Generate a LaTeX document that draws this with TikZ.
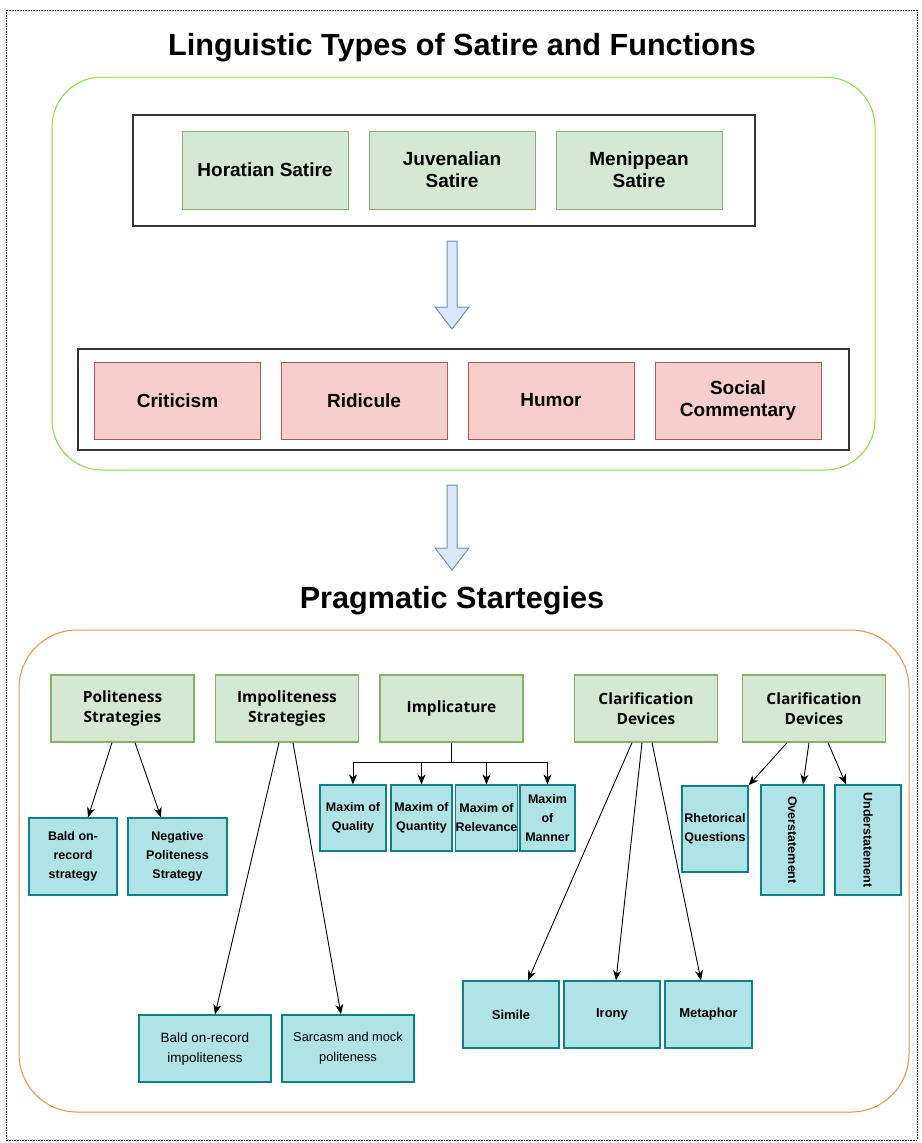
\documentclass[tikz,border=0pt]{standalone}
\usepackage{fontspec}
\setmainfont{Liberation Sans}
\newfontfamily\hdr{Open Sans}
\usetikzlibrary{arrows.meta}
\definecolor{gfill}{HTML}{D5E8D4}
\definecolor{gline}{HTML}{82B366}
\definecolor{rfill}{HTML}{F8CECC}
\definecolor{rline}{HTML}{B85450}
\definecolor{cfill}{HTML}{B0E3E6}
\definecolor{cline}{HTML}{0E8088}
\definecolor{bfill}{HTML}{DAE8FC}
\definecolor{bline}{HTML}{6C8EBF}
\definecolor{frgreen}{HTML}{7FE23A}
\definecolor{frorange}{HTML}{E8913F}
\definecolor{dkbox}{HTML}{333333}
\begin{document}
\begin{tikzpicture}[x=1pt,y=-1pt,
  gbox/.style={draw=gline, fill=gfill, line width=1pt, inner sep=0pt, align=center,
    font=\bfseries\fontsize{19}{22}\selectfont, minimum height=78pt},
  rbox/.style={draw=rline, fill=rfill, line width=1pt, inner sep=0pt, align=center,
    font=\bfseries\fontsize{19}{22}\selectfont, minimum height=77pt, minimum width=166pt},
  hbox/.style={draw=gline, fill=gfill, line width=1.3pt, inner sep=0pt, align=center,
    font=\hdr\bfseries\fontsize{15.5}{20}\selectfont, minimum height=67pt, minimum width=143pt},
  cbox/.style={draw=cline, fill=cfill, line width=1.2pt, inner sep=0pt, align=center,
    font=\bfseries\fontsize{12.5}{19}\selectfont},
  cboxr/.style={cbox, font=\fontsize{13.5}{20}\selectfont},
  blk/.style={draw=dkbox, line width=2pt},
  barrow/.style={draw=bline, fill=bfill, line width=1pt},
  arr/.style={-{Stealth[length=10pt,width=8pt,inset=3pt]}, line width=0.9pt, black},
  ttl/.style={font=\bfseries\fontsize{30.6}{33}\selectfont, inner sep=0pt, anchor=base}
]
\useasboundingbox (0,0) rectangle (921,1143);
\fill[white] (0,0) rectangle (921,1143);
% outer frame
\draw[black, line width=0.9pt, dash pattern=on 1pt off 0.6pt] (6,10) rectangle (917,1140);

% title 1
\node[ttl] (t1) at (462,55) {Linguistic Types of Satire and Functions};

% green rounded container
\draw[frgreen, line width=1pt, rounded corners=50pt] (52,77) rectangle (875,470);

% black box 1
\draw[blk] (133,115) rectangle (755,226);
\node[gbox, minimum width=166pt] (hor) at (265,170) {Horatian Satire};
\node[gbox, minimum width=166pt] (juv) at (452,170) {Juvenalian\\Satire};
\node[gbox, minimum width=166pt] (men) at (639,170) {Menippean\\Satire};

% block arrow 1
\draw[barrow] (447,241) -- (457,241) -- (457,307) -- (469,307) -- (452,329) -- (435,307) -- (447,307) -- cycle;

% black box 2
\draw[blk] (78,349) rectangle (849,450);
\node[rbox] (crit) at (177.5,400.5) {Criticism};
\node[rbox] (rid) at (364,400.5) {Ridicule};
\node[rbox] (hum) at (551,400.5) {Humor};
\node[rbox] (soc) at (738,400.5) {Social\\Commentary};

% block arrow 2
\draw[barrow] (447,485) -- (457,485) -- (457,548) -- (469,548) -- (452,570) -- (435,548) -- (447,548) -- cycle;

% title 2
\node[ttl] (t2) at (452,608) {Pragmatic Startegies};

% orange container
\draw[frorange, line width=1pt, rounded corners=58pt] (19,630) rectangle (909,1112);

% headers
\node[hbox] (pol) at (122.5,708.5) {Politeness\\Strategies};
\node[hbox] (imp) at (287,708.5) {Impoliteness\\Strategies};
\node[hbox] (impl) at (451.5,708.5) {Implicature};
\node[hbox] (cla) at (646,708.5) {Clarification\\Devices};
\node[hbox] (clb) at (814,708.5) {Clarification\\Devices};

% politeness children
\node[cbox, minimum width=88pt, minimum height=77pt] (bald) at (73,856.5) {Bald on-\\record\\strategy};
\node[cbox, minimum width=99pt, minimum height=77pt] (neg) at (177.5,856.5) {Negative\\Politeness\\Strategy};
\draw[arr] ([xshift=-10.5pt]pol.south) -- ([xshift=15pt]bald.north);
\draw[arr] ([xshift=12.5pt]pol.south) -- ([xshift=-16.5pt]neg.north);

% impoliteness children
\node[cboxr, minimum width=132pt, minimum height=67pt] (bimp) at (205,1048.5) {Bald on-record\\impoliteness};
\node[cboxr, minimum width=132pt, minimum height=67pt, font=\fontsize{12.8}{20}\selectfont] (sarc) at (348,1048.5) {Sarcasm and mock\\politeness};
\draw[arr] ([xshift=-8pt]imp.south) -- ([xshift=10pt]bimp.north);
\draw[arr] ([xshift=6pt]imp.south) -- ([xshift=-7pt]sarc.north);

% implicature children
\node[cbox, minimum width=66pt, minimum height=66pt] (mq1) at (353,818) {Maxim of\\Quality};
\node[cbox, minimum width=61pt, minimum height=66pt] (mq2) at (421.5,818) {Maxim of\\Quantity};
\node[cbox, minimum width=61pt, minimum height=66pt] (mq3) at (486.5,818) {Maxim of\\Relevance};
\node[cbox, minimum width=55pt, minimum height=66pt] (mq4) at (547.5,818) {Maxim\\of\\Manner};
\draw[arr] (impl.south) -- ++(0,20) -| (mq1.north);
\draw[arr] (impl.south) -- ++(0,20) -| (mq2.north);
\draw[arr] (impl.south) -- ++(0,20) -| (mq3.north);
\draw[arr] (impl.south) -- ++(0,20) -| (mq4.north);

% clarification devices 1 children
\node[cbox, minimum width=96pt, minimum height=67pt, font=\bfseries\fontsize{13}{19}\selectfont] (sim) at (511,1014.5) {Simile};
\node[cbox, minimum width=96pt, minimum height=67pt, font=\bfseries\fontsize{13}{19}\selectfont] (iro) at (612,1014.5) {Irony};
\node[cbox, minimum width=87pt, minimum height=67pt, font=\bfseries\fontsize{13}{19}\selectfont] (met) at (708.5,1014.5) {Metaphor};
\draw[arr] ([xshift=-14pt]cla.south) -- ([xshift=17pt]sim.north);
\draw[arr] ([xshift=-4pt]cla.south) -- ([xshift=4pt]iro.north);
\draw[arr] ([xshift=6pt]cla.south) -- ([xshift=-7.5pt]met.north);

% clarification devices 2 children
\node[cbox, minimum width=66pt, minimum height=86pt] (rhe) at (715,829) {Rhetorical\\Questions};
\node[cbox, rotate=-90, minimum width=110pt, minimum height=63pt] (ovr) at (792.5,840) {Overstatement};
\node[cbox, rotate=-90, minimum width=110pt, minimum height=66pt] (und) at (868,840) {Understatement};
\draw[arr] ([xshift=-27pt]clb.south) -- (rhe.north east);
\draw[arr] ([xshift=-5pt]clb.south) -- ([xshift=10.5pt]ovr.west);
\draw[arr] ([xshift=14pt]clb.south) -- ([xshift=-22pt]und.west);
\end{tikzpicture}
\end{document}
